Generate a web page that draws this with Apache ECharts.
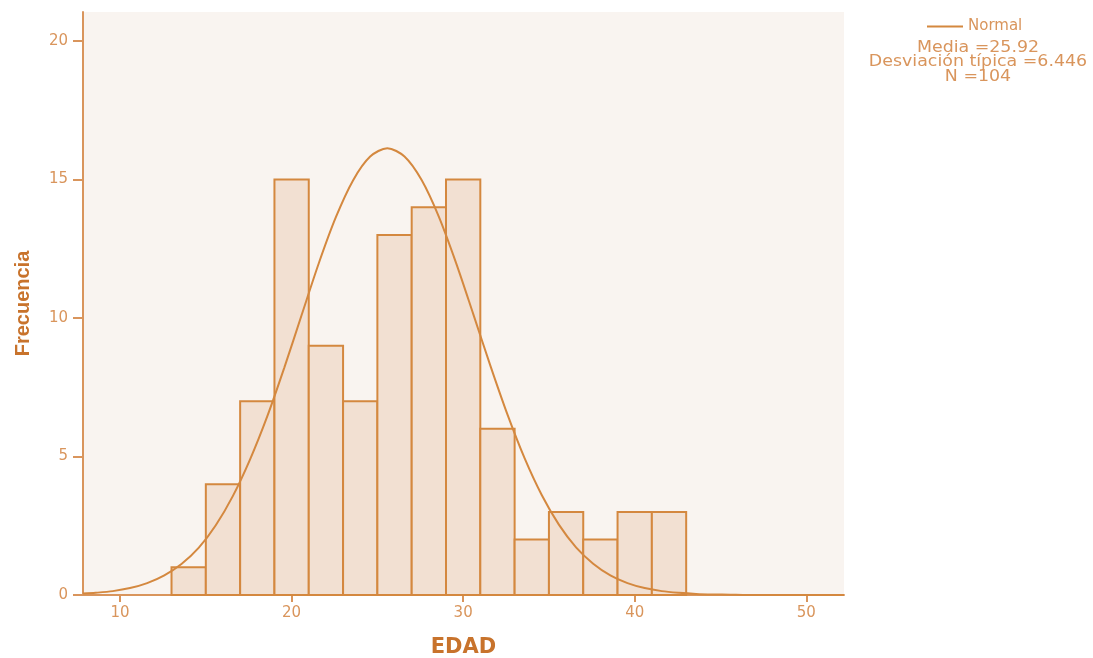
<!DOCTYPE html>
<html>
<head>
<meta charset="utf-8">
<script src="https://cdn.jsdelivr.net/npm/echarts@6/dist/echarts.min.js"></script>
<style>html,body{margin:0;padding:0;background:#fff}#c{width:1093px;height:658px}</style>
</head>
<body>
<div id="c"></div>
<script>
const binStarts = [13,15,17,19,21,23,25,27,29,31,33,35,37,39,41];
const counts    = [1,4,7,15,9,7,13,14,15,6,2,3,2,3,3];
const binWidth = 2;
const curveX = [7.84,8.58,9.58,10.58,11.58,12.58,13.58,14.58,15.58,16.58,17.58,18.58,19.58,20.58,21.58,22.58,23.58,24.58,25.58,26.58,27.58,28.58,29.58,30.58,31.58,32.58,33.58,34.58,35.58,36.58,37.58,38.58,39.58,40.58,41.58,42.58,43.58,44.58,45.58,46.58,47.58,48.58,49.58,50.58,51.58,52.2];
const curveY = [0.05,0.08,0.14,0.25,0.43,0.71,1.12,1.7,2.52,3.58,4.9,6.45,8.22,10.1,11.97,13.64,14.97,15.83,16.13,15.83,14.98,13.66,12.0,10.16,8.29,6.52,4.94,3.61,2.54,1.72,1.13,0.71,0.43,0.25,0.14,0.08,0.04,0.02,0.01,0,0,0,0,0,0,0];
const xTicks = [10,20,30,40,50];
const yTicks = [0,5,10,15,20];
const statLines = ['Media =25.92','Desviación típica =6.446','N =104'];

const axisCol = '#d9955c';
const darkCol = '#c8732c';
const lineCol = '#d4883f';
const chart = echarts.init(document.getElementById('c'));
chart.setOption({
  animation: false,
  grid: {left: 83, right: 249, top: 12, bottom: 63, outerBoundsMode: 'none', containLabel: false,
         show: true, backgroundColor: '#f9f4f0', borderWidth: 0},
  legend: {
    data: [{name: 'Normal', icon: 'rect'}],
    left: 922, top: 14, itemWidth: 36, itemHeight: 2, itemGap: 6,
    textStyle: {color: axisCol, fontSize: 15, fontFamily: 'DejaVu Sans'}
  },
  graphic: statLines.map((t, i) => ({
    type: 'text', x: 978, y: 48 + i * 14.5,
    style: {text: t, fill: axisCol, font: '15px "DejaVu Sans"', align: 'center', verticalAlign: 'middle'},
    scaleX: 1.16, originX: 0
  })),
  xAxis: {
    type: 'value', min: 7.84, max: 52.2,
    name: 'EDAD', nameLocation: 'middle', nameGap: 42,
    nameTextStyle: {color: darkCol, fontSize: 21, fontWeight: 'bold', fontFamily: 'DejaVu Sans'},
    axisLine: {show: true, lineStyle: {color: axisCol, width: 2}},
    axisTick: {show: true, customValues: xTicks, length: 7, lineStyle: {color: axisCol, width: 2}},
    axisLabel: {customValues: xTicks, color: axisCol, fontSize: 15, margin: 11, fontFamily: 'DejaVu Sans'},
    splitLine: {show: false}
  },
  yAxis: {
    type: 'value', min: 0, max: 21.05,
    name: 'Frecuencia', nameLocation: 'middle', nameGap: 50,
    nameTextStyle: {color: darkCol, fontSize: 20, fontWeight: 'bold', fontFamily: 'Liberation Sans, Arial'},
    axisLine: {show: true, lineStyle: {color: axisCol, width: 2}},
    axisTick: {show: true, customValues: yTicks, length: 10, lineStyle: {color: axisCol, width: 2}},
    axisLabel: {customValues: yTicks, color: axisCol, fontSize: 15, margin: 15, fontFamily: 'DejaVu Sans'},
    splitLine: {show: false}
  },
  series: [
    {
      type: 'custom', name: 'hist',
      data: binStarts.map((s, i) => [s, s + binWidth, counts[i]]),
      renderItem: function (params, api) {
        const p0 = api.coord([api.value(0), 0]);
        const p1 = api.coord([api.value(1), api.value(2)]);
        return {
          type: 'rect',
          shape: {x: p0[0], y: p1[1], width: p1[0] - p0[0], height: p0[1] - p1[1]},
          style: {fill: '#f2e0d2', stroke: lineCol, lineWidth: 2}
        };
      },
      z: 2
    },
    {
      type: 'line', name: 'Normal', smooth: 0.3, showSymbol: false,
      data: curveX.map((x, i) => [x, curveY[i]]),
      lineStyle: {color: lineCol, width: 2},
      itemStyle: {color: lineCol},
      z: 3
    }
  ]
});
</script>
</body>
</html>
